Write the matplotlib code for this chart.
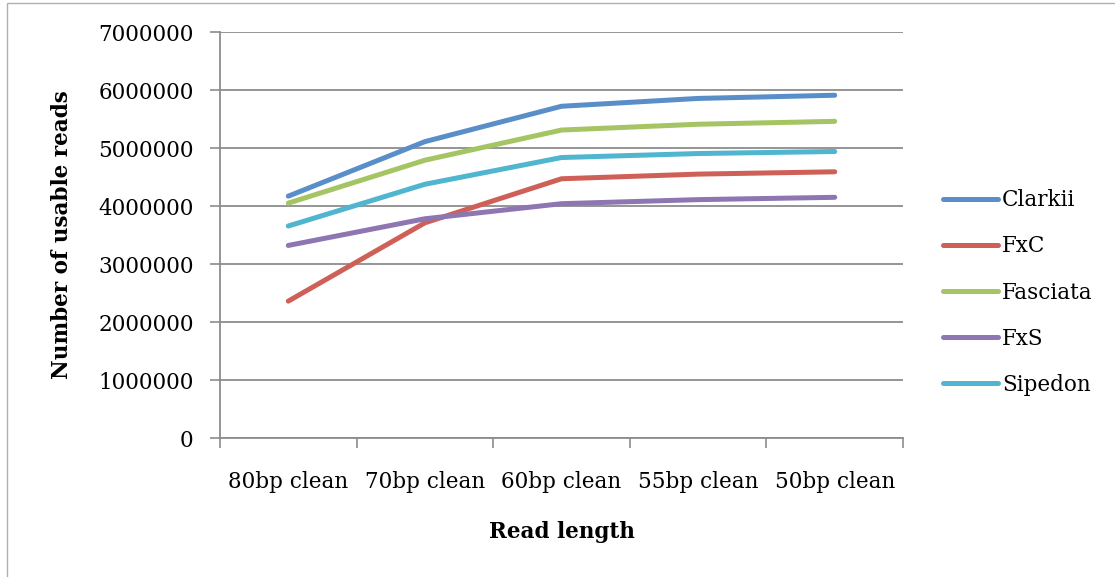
import matplotlib
matplotlib.use("Agg")
import matplotlib.pyplot as plt
from matplotlib.patches import Rectangle

# read counts per trimming length
categories = ["80bp clean", "70bp clean", "60bp clean", "55bp clean", "50bp clean"]
clarkii = [4170000, 5110000, 5720000, 5855000, 5910000]
fxc = [2360000, 3710000, 4470000, 4550000, 4590000]
fasciata = [4050000, 4790000, 5310000, 5410000, 5460000]
fxs = [3320000, 3780000, 4040000, 4110000, 4150000]
sipedon = [3655000, 4375000, 4836000, 4905000, 4940000]

series = [
    ("Clarkii", clarkii, "#5a8ec8"),
    ("FxC", fxc, "#cf6058"),
    ("Fasciata", fasciata, "#a5c463"),
    ("FxS", fxs, "#8d76b2"),
    ("Sipedon", sipedon, "#50b5cf"),
]

plt.rcParams["font.family"] = ["DejaVu Serif"]
plt.rcParams["font.size"] = 15.5

fig = plt.figure(figsize=(11.15, 5.77), dpi=100)
ax = fig.add_axes([0.1973, 0.2409, 0.8099 - 0.1973, 0.9445 - 0.2409])

x = list(range(len(categories)))
for name, vals, color in series:
    ax.plot(x, vals, color=color, lw=3.6, solid_capstyle="round",
            solid_joinstyle="round", label=name)

ax.set_xlim(-0.5, len(categories) - 0.5)
ax.set_ylim(0, 7000000)
ax.set_yticks(range(0, 7000001, 1000000))
ax.set_yticklabels([str(v) for v in range(0, 7000001, 1000000)])

# category labels sit between boundary ticks
ax.set_xticks([i - 0.5 for i in range(len(categories) + 1)])
ax.set_xticklabels([])
ax.set_xticks(x, minor=True)
ax.set_xticklabels(categories, minor=True)
ax.tick_params(axis="x", which="minor", length=0, pad=24)
ax.tick_params(axis="x", which="major", length=7, width=1.2, color="#8c8c8c")
ax.tick_params(axis="y", length=7, width=1.2, color="#8c8c8c", pad=12)

ax.grid(axis="y", color="#8c8c8c", lw=1.3)
ax.set_axisbelow(True)
for s in ("top", "right"):
    ax.spines[s].set_visible(False)
for s in ("left", "bottom"):
    ax.spines[s].set_color("#8c8c8c")
    ax.spines[s].set_linewidth(1.3)

ax.set_ylabel("Number of usable reads", fontweight="bold", labelpad=18)
ax.set_xlabel("Read length", fontweight="bold", labelpad=20)

fig.legend(loc="center left", bbox_to_anchor=(0.8457, 0.493), frameon=False,
           borderpad=0, borderaxespad=0, handlelength=2.55, handletextpad=0.2,
           labelspacing=1.12)

# chart border
fig.patches.append(Rectangle((7 / 1115, -0.05), 1.1, 1 - 3 / 577 + 0.05,
                             transform=fig.transFigure, fill=False,
                             edgecolor="#b0b0b0", lw=1.0))

fig.savefig("out.png", dpi=100)
